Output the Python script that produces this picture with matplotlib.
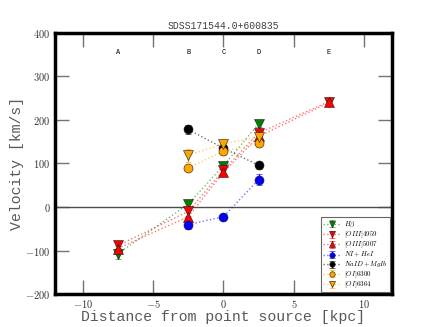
import matplotlib
matplotlib.use("Agg")
import matplotlib.pyplot as plt
from matplotlib.colors import to_rgba
from matplotlib.ticker import FuncFormatter

plt.rcParams['mathtext.fontset'] = 'cm'

# Slit positions [kpc]
regions = ['A', 'B', 'C', 'D', 'E']
region_x = [-7.5, -2.5, 0.0, 2.5, 7.5]

# Velocity measurements per line: (x, v, err)
hb_x = [-7.5, -2.5, 0.0, 2.5]
hb_v = [-107, 7, 95, 191]
hb_e = [12, 8, 6, 8]

o4959_x = [-7.5, -2.5, 0.0, 2.5, 7.5]
o4959_v = [-88, -10, 85, 170, 242]
o4959_e = [6, 10, 6, 8, 6]

o5007_x = [-7.5, -2.5, 0.0, 2.5, 7.5]
o5007_v = [-95, -22, 80, 162, 240]
o5007_e = [5, 15, 5, 6, 5]

nhe_x = [-2.5, 0.0, 2.5]
nhe_v = [-40, -22, 63]
nhe_e = [10, 6, 12]

nad_x = [-2.5, 0.0, 2.5]
nad_v = [178, 135, 96]
nad_e = [10, 8, 8]

oi6300_x = [-2.5, 0.0, 2.5]
oi6300_v = [90, 128, 146]
oi6300_e = [6, 8, 8]

oi6364_x = [-2.5, 0.0, 2.5]
oi6364_v = [119, 145, 161]
oi6364_e = [15, 10, 8]

series = [
    (hb_x, hb_v, hb_e, 'green', 'v', r'$H\beta$'),
    (o4959_x, o4959_v, o4959_e, 'red', 'v', r'$[OIII]4959$'),
    (o5007_x, o5007_v, o5007_e, 'red', '^', r'$[OIII]5007$'),
    (nhe_x, nhe_v, nhe_e, 'blue', 'o', r'$NI+HeI$'),
    (nad_x, nad_v, nad_e, 'black', 'o', r'$NaID+MgIb$'),
    (oi6300_x, oi6300_v, oi6300_e, 'orange', 'o', r'$[OI]6300$'),
    (oi6364_x, oi6364_v, oi6364_e, 'orange', 'v', r'$[OI]6364$'),
]

fig = plt.figure(figsize=(4.36, 3.27), dpi=100)
ax = fig.add_axes([0.125, 0.1, 0.775, 0.8])

ax.axhline(0, color='0.3', linewidth=1)

for x, v, e, c, m, lab in series:
    # faded dotted line, solid markers and error bars
    ax.errorbar(x, v, yerr=e, color=to_rgba(c, 0.55), ecolor=c,
                marker=m, markerfacecolor=c, markeredgecolor='0.1',
                markeredgewidth=0.4, markersize=6.5, linestyle=':',
                linewidth=1, capsize=2, elinewidth=1, label=lab)

for lab, xr in zip(regions, region_x):
    ax.text(xr, 355, lab, ha='center', va='center', fontsize=5,
            family='Liberation Mono')

ax.set_xlim(-12, 12)
ax.set_ylim(-200, 400)
ax.set_xticks([-10, -5, 0, 5, 10])
ax.set_yticks([-200, -100, 0, 100, 200, 300, 400])
fmt = FuncFormatter(lambda val, pos: r'$%d$' % val)
ax.xaxis.set_major_formatter(fmt)
ax.yaxis.set_major_formatter(fmt)
ax.tick_params(direction='in', length=10, width=1, color='0.45',
               labelsize=7.5, labelcolor='0.2', top=True, right=True, pad=3)

for s in ax.spines.values():
    s.set_linewidth(2.5)

ax.set_title('SDSS171544.0+600835', fontsize=7, family='Liberation Mono',
             color='0.25', pad=3)
ax.set_xlabel('Distance from point source [kpc]', fontsize=10.7,
              family='Liberation Mono', color='0.35', labelpad=0)
ax.set_ylabel('Velocity [km/s]', fontsize=10.7, family='Liberation Mono',
              color='0.35', labelpad=1)

leg = ax.legend(loc='lower right', fontsize=5,
                handlelength=2.4, handleheight=0.4, markerscale=0.6,
                borderpad=0.35, labelspacing=0.0, handletextpad=0.6,
                framealpha=1, fancybox=False, edgecolor='0.4',
                numpoints=1, borderaxespad=0.3)
leg.get_frame().set_linewidth(0.8)

fig.savefig('out.png', dpi=100)
